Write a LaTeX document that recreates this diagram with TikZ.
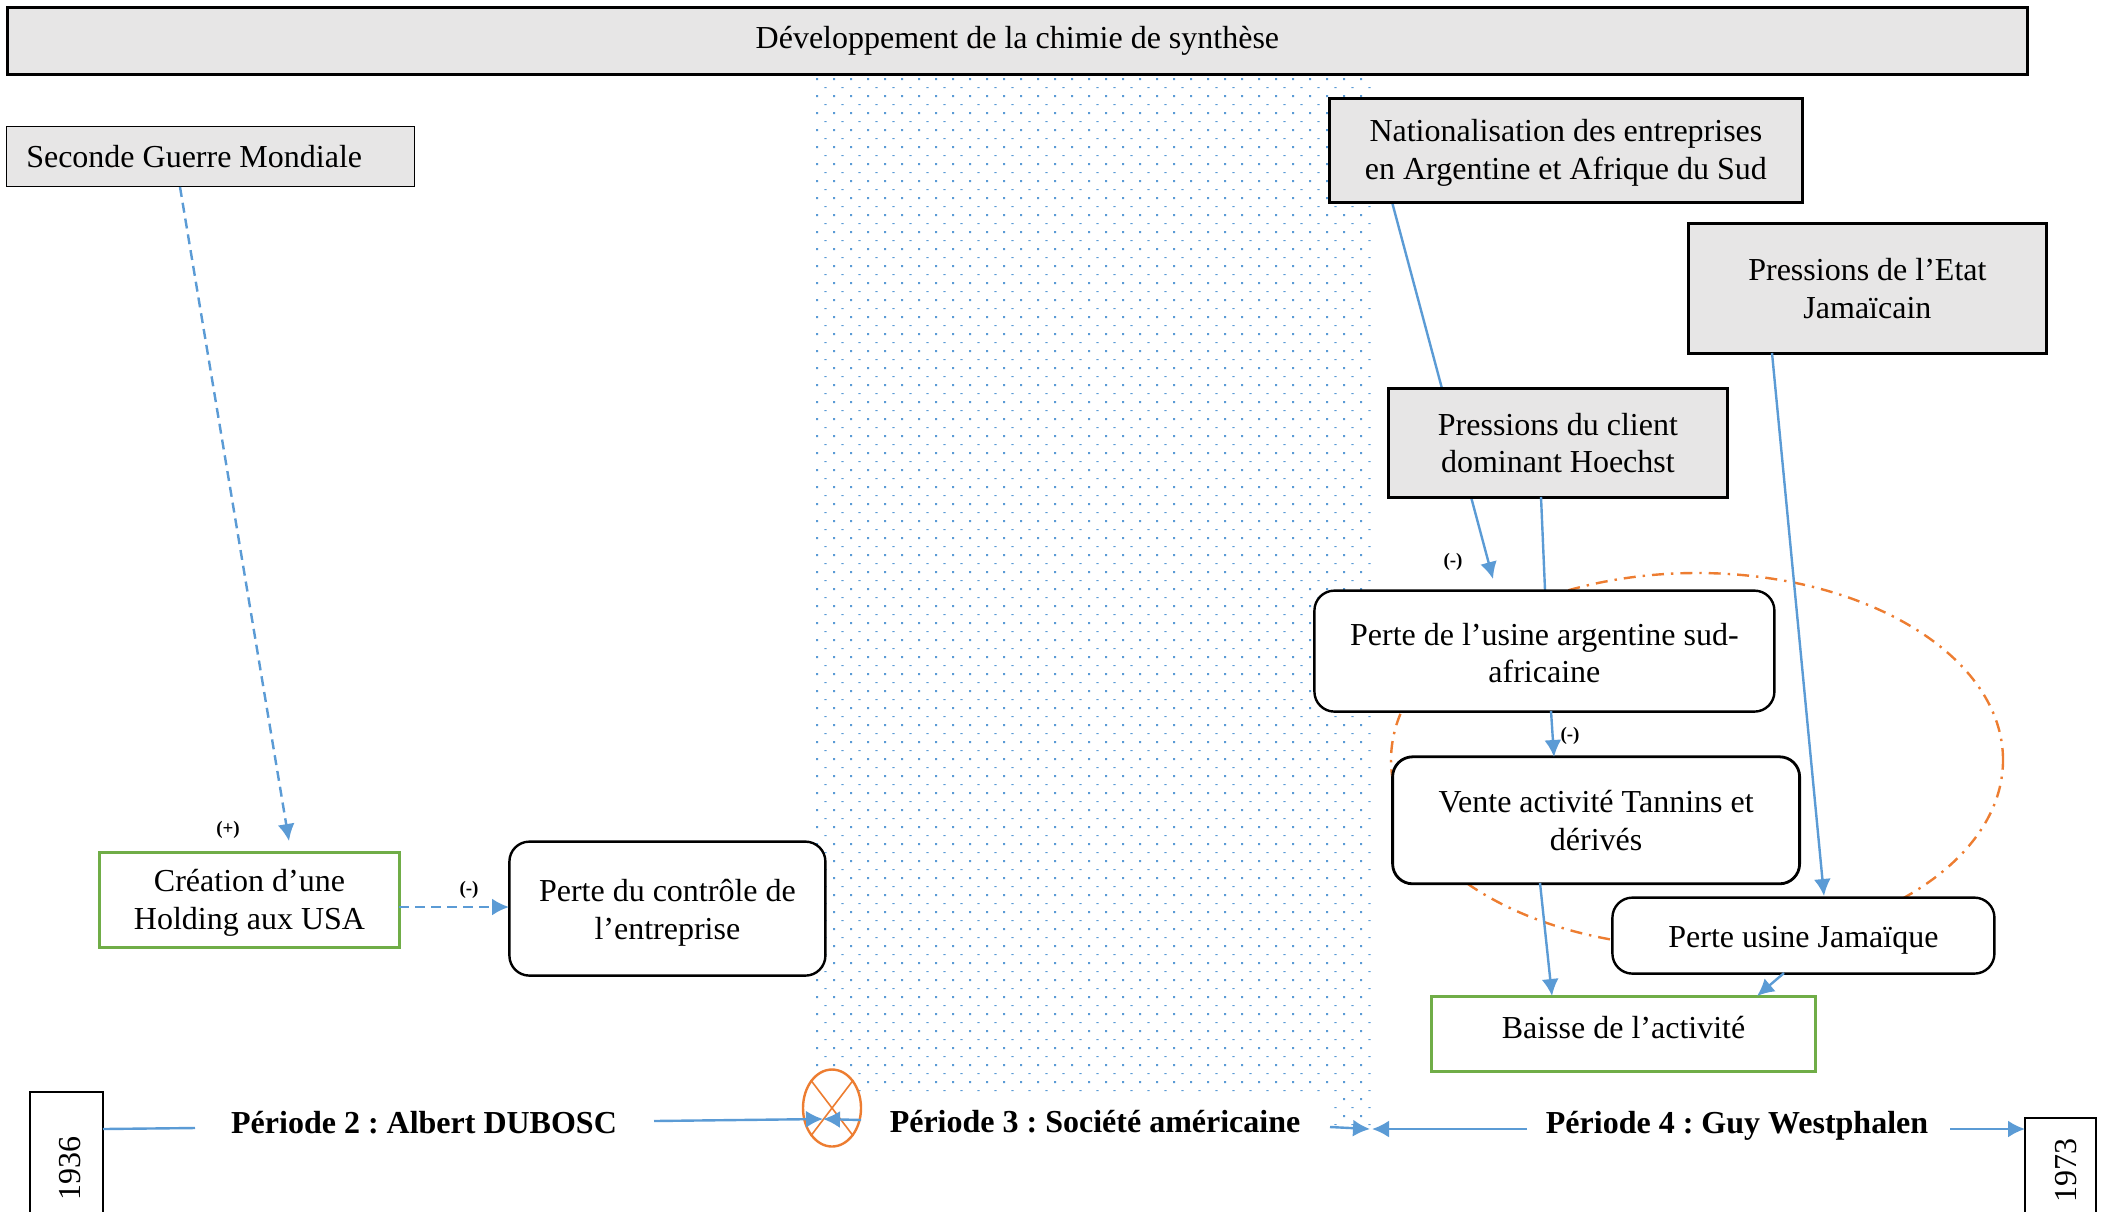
\documentclass[tikz,border=0pt]{standalone}
\usepackage{fontspec}
\setmainfont{Liberation Serif}
\usetikzlibrary{arrows.meta,shapes.geometric}
\definecolor{bl}{HTML}{5B9BD5}
\definecolor{org}{HTML}{ED7D31}
\definecolor{grn}{HTML}{70AD47}
\definecolor{gr}{HTML}{E7E6E6}
\tikzset{
 txt/.style={font=\fontsize{16pt}{18.9pt}\selectfont,align=center,text=black},
 graybox/.style={txt,draw=black,fill=gr,line width=1.2pt,anchor=north west,inner sep=0pt,xshift=-0.4pt,yshift=0.3pt},
 roundbox/.style={txt,draw=black,fill=white,line width=1.2pt,rounded corners=10pt,anchor=north west,inner sep=0pt,xshift=-0.4pt,yshift=0.3pt},
 greenbox/.style={txt,draw=grn,fill=white,line width=1.3pt,anchor=north west,inner sep=0pt,xshift=-0.4pt,yshift=0.3pt},
 yearbox/.style={draw=black,fill=white,line width=0.9pt,anchor=north west,inner sep=0pt,xshift=-0.4pt},
 per/.style={font=\fontsize{16pt}{18pt}\selectfont\bfseries\frenchspacing,inner sep=0pt},
 sgn/.style={font=\fontsize{9.5pt}{10pt}\selectfont\bfseries,inner sep=0pt},
 conn/.style={draw=bl,line width=1.2pt},
 arr/.style={conn,-{Latex[length=8.5pt,width=8.5pt]}},
 darr/.style={arr,dash pattern=on 5pt off 3pt},
}
\newcommand{\nd}[2]{\raisebox{#1}[\height][\depth]{\begin{tabular}{@{}c@{}}#2\end{tabular}}}
\begin{document}
\begin{tikzpicture}[x=0.5pt,y=-0.5pt]
\useasboundingbox (0,0) rectangle (2107,1211);
\clip (0,0) rectangle (2107,1211);
% dots
\fill[bl] foreach \i in {0,...,32} { foreach \j in {0,...,61} {
  ({817+17*\i-1},{79+17*\j-1}) rectangle ++(2,2)
  ({825.5+17*\i-1.2},{87.5+17*\j-0.5}) rectangle ++(2.4,1)
}};
\fill[white] (810,1095) rectangle (1333,1135);
\fill[white] (1373,60) rectangle (1400,1135);
% dash-dot ellipse
\node[ellipse,draw=org,line width=1.2pt,dash pattern=on 6pt off 3.5pt on 1.2pt off 3.5pt,minimum width=306pt,minimum height=187pt,inner sep=0pt] (loop) at (1697,760) {};
% coordinates
\coordinate (e1) at (289,841);
\coordinate (e2) at (1493,579);
% nat line goes behind Hoechst
\coordinate (natb) at (1392,202);
\draw[arr] (natb) -- (e2);
% nodes
\node[graybox,minimum width=1010pt,minimum height=33.5pt] (top) at (7,7) {Développement de la chimie de synthèse};
\node[graybox,line width=0.5pt,minimum width=204pt,minimum height=30pt] (sgm) at (7,127) {\hspace*{-16.5pt}\nd{-1.3pt}{Seconde Guerre Mondiale}};
\node[graybox,minimum width=236.5pt,minimum height=52pt] (nat) at (1329,98) {\nd{-1.3pt}{Nationalisation des entreprises\\en Argentine et Afrique du Sud}};
\node[graybox,minimum width=179pt,minimum height=65pt] (etat) at (1688,223) {Pressions de l’Etat\\Jamaïcain};
\node[graybox,minimum width=169.5pt,minimum height=54.5pt] (hoe) at (1388,388) {Pressions du client\\dominant Hoechst};
\draw[conn] (1541,497) -- (1545,590);
\node[roundbox,minimum width=230pt,minimum height=60.5pt] (arg) at (1314,590) {\nd{-2.7pt}{Perte de l’usine argentine sud-\\africaine}};
\node[roundbox,line width=1.4pt,minimum width=203.5pt,minimum height=63.5pt] (ven) at (1392,756) {Vente activité Tannins et\\dérivés};
\node[roundbox,minimum width=191pt,minimum height=38pt] (jam) at (1612,897) {\nd{-2pt}{Perte usine Jamaïque}};
\node[greenbox,minimum width=192pt,minimum height=37.5pt] (bai) at (1431,996) {\nd{1.7pt}{Baisse de l’activité}};
\node[greenbox,minimum width=150pt,minimum height=47.5pt] (cre) at (99,852) {\nd{-1.3pt}{Création d’une\\Holding aux USA}};
\node[roundbox,minimum width=158pt,minimum height=67pt] (ctl) at (509,841) {\nd{-2pt}{Perte du contrôle de\\l’entreprise}};
\node[yearbox,minimum width=36.5pt,minimum height=80pt] (y1) at (30,1091) {};
\node[yearbox,minimum width=35.5pt,minimum height=60pt] (y2) at (2025,1117) {};
\node[txt,rotate=90,inner sep=0pt] (y1t) at (70,1168) {1936};
\node[txt,rotate=90,inner sep=0pt] (y2t) at (2066,1170) {1973};
% period
\node[per] (p2) at (424,1123) {Période 2 : Albert DUBOSC};
\node[per] (p3) at (1095,1122) {Période 3 : Société américaine};
\node[per] (p4) at (1737,1126) {Période 4 : Guy Westphalen};
% cross
\node[ellipse,draw=org,fill=white,line width=1.2pt,minimum width=29pt,minimum height=38.5pt,inner sep=0pt] (cr) at (832,1108) {};
\draw[org,line width=0.8pt] (cr.north west) -- (cr.south east) (cr.north east) -- (cr.south west);
% connectors
\draw[darr] (180,187) -- (e1);
\draw[darr] (399,907) -- (509,907);
\draw[arr] (1551,711) -- (1554,757);
\draw[arr] (1540,883) -- (1552,996);
\draw[arr] (1772,353) -- (1824,896);
\draw[arr] (1784,973) -- (1757,996);
\draw[conn] (103,1129) -- (195,1128);
\draw[arr] (654,1121) -- (823,1119);
\draw[arr] (861,1120) -- (823,1119);
\draw[arr] (1330,1127) -- (1370,1129);
\draw[arr] (1527,1129) -- (1372,1129);
\draw[arr] (1950,1129) -- (2025,1129);
% labels
\node[sgn] (s1) at (228,830) {(+)};
\node[sgn] (s2) at (469,890) {(-)};
\node[sgn] (s3) at (1453,562) {(-)};
\node[sgn] (s4) at (1570,736) {(-)};
\end{tikzpicture}
\end{document}
